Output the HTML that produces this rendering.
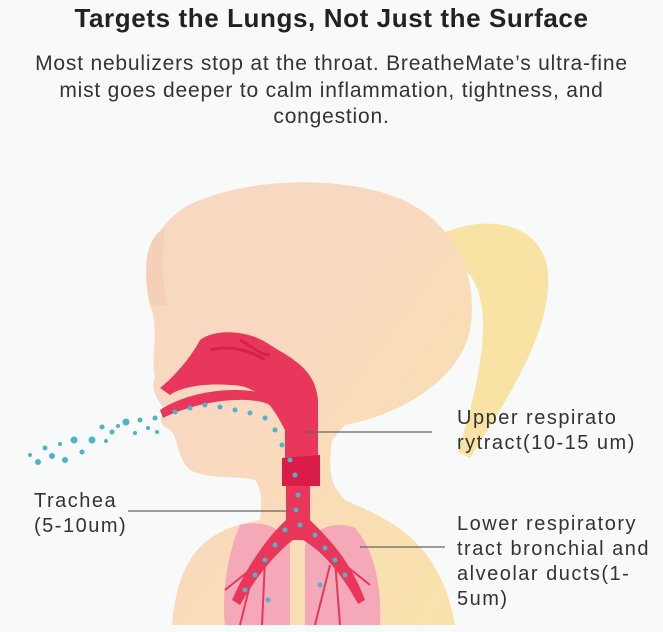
<!DOCTYPE html>
<html><head><meta charset="utf-8"><style>
body{margin:0;background:#fff;}
.w{width:663px;height:632px;position:relative;background:#f8f9f9;overflow:hidden;font-family:"Liberation Sans",sans-serif;}
h1{position:absolute;top:3px;left:0;width:663px;text-align:center;font-size:26px;font-weight:bold;color:#222;margin:0;letter-spacing:0.6px;}
.sub{position:absolute;top:51px;left:0;width:663px;text-align:center;font-size:21px;color:#333;line-height:26.5px;white-space:nowrap;letter-spacing:0.8px;}
.l{position:absolute;font-size:20px;color:#333;line-height:25px;letter-spacing:1.5px;white-space:nowrap;}
</style></head><body><div class="w">
<h1>Targets the Lungs, Not Just the Surface</h1>
<div class="sub">Most nebulizers stop at the throat. BreatheMate’s ultra-fine<br>mist goes deeper to calm inflammation, tightness, and<br>congestion.</div>
<svg width="663" height="632" style="position:absolute;left:0;top:0">
<defs><linearGradient id="g" x1="0" y1="0" x2="1" y2="1"><stop offset="0.35" stop-color="#f9d8c2"/><stop offset="1" stop-color="#f9e3a8"/></linearGradient></defs>
<path d="M430 240 C470 215 535 215 547 265 C555 320 520 380 470 458 L458 452 C480 380 495 310 470 275 Z" fill="#f8e3a4"/>
<path d="M150 305 C138 255 160 215 200 200 C250 180 330 175 390 195 C450 215 480 270 470 330 C460 380 400 415 345 425 L332 440 C328 470 330 485 345 500 C390 520 440 540 455 625 L172 625 C178 560 200 530 260 520 C262 500 262 490 255 480 C235 475 210 480 190 470 C175 455 180 440 170 430 C160 425 158 420 165 410 C158 400 150 390 155 378 C150 355 160 330 150 305 Z" fill="url(#g)"/>
<path d="M150 305 C140 260 150 235 165 228 C162 255 162 290 168 305 Z" fill="#f6cfb8"/>
<path d="M240 525 C225 560 222 600 225 625 L290 625 L290 545 C280 525 260 520 240 525 Z" fill="#f4a8b8"/>
<path d="M305 545 L305 625 L380 625 C382 590 375 550 355 528 C335 520 315 528 305 545 Z" fill="#f4a8b8"/>
<path d="M160 388 C180 372 195 350 200 340 C215 328 250 330 270 345 C295 360 315 370 318 400 L318 460 L285 460 L285 430 C270 400 255 385 230 385 C200 383 180 388 170 395 Z" fill="#e8375a"/>
<path d="M210 350 C230 345 250 350 265 360 M240 340 C250 345 260 355 270 355" stroke="#d42248" stroke-width="3" fill="none"/>
<path d="M163 418 C200 400 250 395 270 405 C285 415 292 440 290 460 L300 460 C300 430 290 405 270 395 C240 385 190 390 160 410 Z" fill="#e8375a"/>
<path d="M282 458 L320 455 L320 486 L282 486 Z" fill="#d91c48"/>
<path d="M286 486 L310 486 L310 520 C330 540 350 560 365 600 L358 604 C340 570 320 550 303 540 L293 540 C280 550 260 570 240 605 L232 600 C250 560 270 535 286 520 Z" fill="#e8375a"/>
<g stroke="#e8375a" stroke-width="2" fill="none">
<path d="M250 570 L225 590 M255 565 L240 625 M265 560 L262 625 M345 565 L370 585 M335 560 L340 625 M330 565 L315 625"/>
</g>
<g fill="#4fb3cc">
<circle cx="30" cy="455" r="2"/><circle cx="38" cy="462" r="3"/><circle cx="45" cy="448" r="2.5"/><circle cx="52" cy="456" r="3"/><circle cx="60" cy="444" r="2"/><circle cx="65" cy="460" r="3"/><circle cx="74" cy="440" r="3.5"/><circle cx="82" cy="452" r="2.5"/><circle cx="92" cy="440" r="3.5"/><circle cx="102" cy="427" r="2.5"/><circle cx="106" cy="441" r="2"/><circle cx="112" cy="432" r="2.5"/><circle cx="118" cy="426" r="2"/><circle cx="126" cy="422" r="3.5"/><circle cx="135" cy="433" r="2"/><circle cx="140" cy="420" r="2.5"/><circle cx="148" cy="428" r="2"/><circle cx="155" cy="418" r="2.5"/><circle cx="157" cy="432" r="2"/>
<circle cx="175" cy="412" r="2.5"/><circle cx="190" cy="408" r="2.5"/><circle cx="205" cy="405" r="2.5"/><circle cx="220" cy="407" r="2.5"/><circle cx="235" cy="410" r="2.5"/><circle cx="250" cy="413" r="2.5"/><circle cx="265" cy="418" r="2.5"/><circle cx="275" cy="430" r="2.5"/><circle cx="282" cy="445" r="2.5"/><circle cx="290" cy="460" r="2.5"/><circle cx="295" cy="475" r="2.5"/><circle cx="298" cy="495" r="2.5"/><circle cx="296" cy="510" r="2.5"/><circle cx="300" cy="525" r="2.5"/><circle cx="285" cy="530" r="2.5"/><circle cx="275" cy="545" r="2.5"/><circle cx="265" cy="560" r="2.5"/><circle cx="255" cy="575" r="2.5"/><circle cx="245" cy="590" r="2.5"/><circle cx="315" cy="535" r="2.5"/><circle cx="325" cy="548" r="2.5"/><circle cx="335" cy="560" r="2.5"/><circle cx="345" cy="575" r="2.5"/><circle cx="320" cy="585" r="2.5"/><circle cx="268" cy="600" r="2.5"/>
</g>
<g stroke="#666" stroke-width="1.2">
<line x1="305" y1="432" x2="432" y2="432"/><line x1="128" y1="511" x2="290" y2="511"/><line x1="360" y1="547" x2="445" y2="547"/>
</g>
</svg>
<div class="l" style="left:457px;top:406px">Upper respirato<br>rytract(10-15 um)</div>
<div class="l" style="left:34px;top:489px">Trachea<br>(5-10um)</div>
<div class="l" style="left:457px;top:512px">Lower respiratory<br>tract bronchial and<br>alveolar ducts(1-<br>5um)</div>
</div></body></html>
